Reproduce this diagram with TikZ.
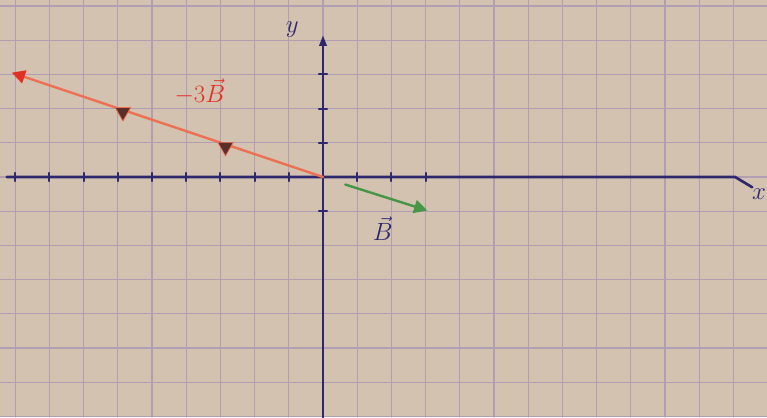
\documentclass[tikz,border=0pt]{standalone}
\usetikzlibrary{arrows.meta,shapes.geometric}
\definecolor{paper}{RGB}{212,194,176}
\definecolor{gridc}{RGB}{178,158,178}
\definecolor{axisc}{RGB}{45,40,110}
\definecolor{redline}{RGB}{236,112,82}
\definecolor{redhead}{RGB}{226,48,36}
\definecolor{greenv}{RGB}{70,150,70}
\definecolor{brownm}{RGB}{92,46,40}
\begin{document}
\begin{tikzpicture}[line cap=round,
  axis/.style={draw=axisc, line width=2.2pt},
  tick/.style={draw=axisc, line width=1.6pt},
  vecm/.style={draw=redline, line width=2pt, -{Triangle[length=11pt,width=11pt,color=redhead]}},
  vecb/.style={draw=greenv, line width=2pt, -{Triangle[length=11pt,width=11pt]}},
  stopmark/.style={regular polygon, regular polygon sides=3, shape border rotate=180, fill=brownm, draw=redline, line width=0.6pt, minimum size=15pt, inner sep=0pt},
  lbl/.style={font=\fontsize{20}{24}\selectfont}]
\useasboundingbox (-9.444,-7.018) rectangle (12.982,5.175);
\fill[paper] (-9.444,-7.018) rectangle (12.982,5.175);
\draw[gridc, line width=1pt] (-9.444,-7.018) grid (12.982,5.175);
% axes
\coordinate (O) at (0,0);
\coordinate (xl) at (-9.25,0);
\coordinate (xr) at (12.05,0);
\coordinate (xe) at (12.55,-0.3);
\coordinate (yb) at (0,-7.1);
\coordinate (yt) at (0,4.15);
\draw[axis] (xl) -- (xr) -- (xe);
\draw[axis, -{Triangle[length=9pt,width=6pt]}] (yb) -- (yt);
\node[lbl, text=axisc] (xlab) at (12.75,-0.5) {$x$};
\node[lbl, text=axisc] (ylab) at (-0.9,4.3) {$y$};
\foreach \i in {-9,...,-1,1,2,3}
  \draw[tick] (\i,-0.12) -- (\i,0.12);
\foreach \j in {-1,1,2,3}
  \draw[tick] (-0.12,\j) -- (0.12,\j);
% vectors
\coordinate (mB) at (-9.1,3.05);
\coordinate (Bs) at (0.65,-0.22);
\coordinate (B) at (3.05,-0.98);
\draw[vecm] (O) -- (mB);
\draw[vecb] (Bs) -- (B);
\node[stopmark] (m1) at (-5.85,1.9) {};
\node[stopmark] (m2) at (-2.85,0.88) {};
\node[lbl, text=redhead] (mBlab) at (-3.6,2.5) {$-3\vec{B}$};
\node[lbl, text=axisc] (Blab) at (1.75,-1.5) {$\vec{B}$};
\end{tikzpicture}
\end{document}
